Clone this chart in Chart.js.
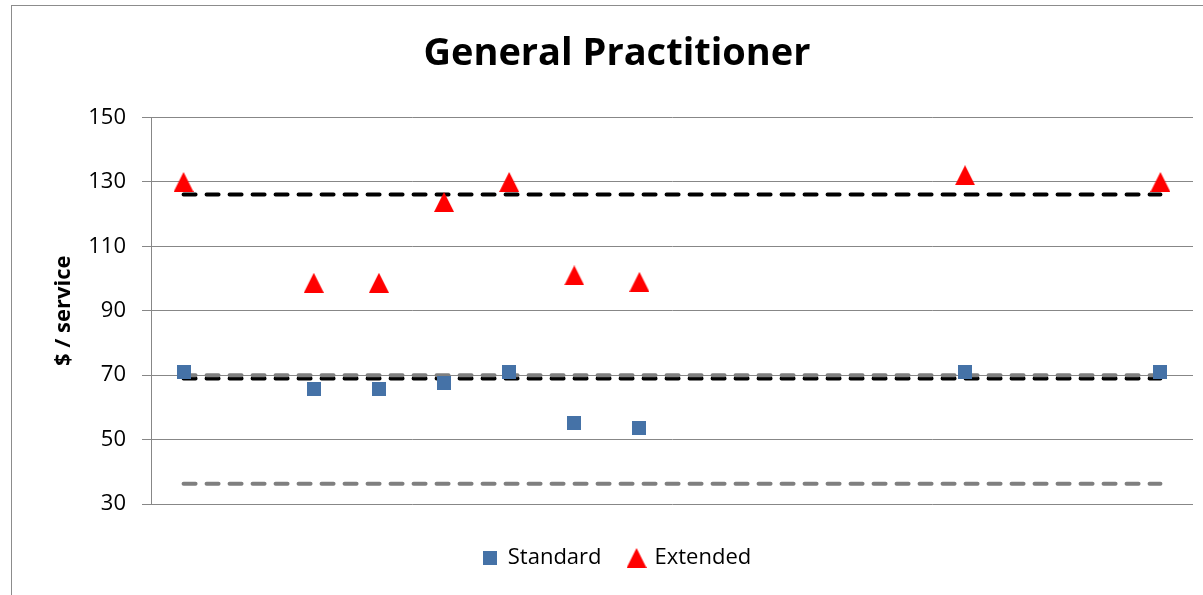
<!DOCTYPE html>
<html>
<head>
<meta charset="utf-8">
<script src="https://cdn.jsdelivr.net/npm/chart.js@4.4.0/dist/chart.umd.min.js"></script>
<style>
  html, body { margin: 0; padding: 0; background: #fff; overflow: hidden; }
  #frame { position: absolute; left: 11px; top: 5px; width: 1400px; height: 800px; border: 1px solid #8c8c8c; }
  #wrap { position: absolute; left: 0; top: 0; width: 1203px; height: 595px; }
</style>
</head>
<body>
<div id="frame"></div>
<div id="wrap"><canvas id="chart"></canvas></div>
<script>
// Data
const categories = ["1", "2", "3", "4", "5", "6", "7", "8", "9", "10", "11", "12", "13", "14", "15", "16"];
const standard = [71, null, 65.8, 65.8, 67.7, 71.1, 55.3, 53.7, null, null, null, null, 71.1, null, null, 71.1];
const extended = [130, null, 98.7, 98.7, 123.8, 130, 101, 99, null, null, null, null, 132.1, null, null, 130];
// dashed reference lines (black = extended / standard, grey = other)
const blackLines = [126.1, 69];
const greyLines = [70, 36.3];
const yTicks = [30, 50, 70, 90, 110, 130, 150];

const font = "'Open Sans', 'Liberation Sans', sans-serif";

// marker images so the marker box is centred on the value, like Excel
const makeSquare = (size, color) => {
    const c = document.createElement("canvas");
    c.width = size;
    c.height = size;
    const ctx = c.getContext("2d");
    ctx.fillStyle = color;
    ctx.fillRect(0, 0, size, size);
    return c;
};
const makeTriangle = (size, color) => {
    const c = document.createElement("canvas");
    c.width = size;
    c.height = size;
    const ctx = c.getContext("2d");
    ctx.fillStyle = color;
    ctx.beginPath();
    ctx.moveTo(size / 2, 0);
    ctx.lineTo(size, size);
    ctx.lineTo(0, size);
    ctx.closePath();
    ctx.fill();
    return c;
};

const squareMark = makeSquare(14, "#4572A7");
const triangleMark = makeTriangle(20, "#FF0000");

// a flat dashed line across the first to last category
const flatLine = (value, color, order) => ({
    label: "line",
    data: [{ x: categories[0], y: value }, { x: categories[categories.length - 1], y: value }],
    borderColor: color,
    borderWidth: 4,
    borderDash: [12, 11],
    borderCapStyle: "round",
    pointRadius: 0,
    fill: false,
    order: order
});

const datasets = [
    {
        label: "Standard",
        data: standard,
        showLine: false,
        pointStyle: squareMark,
        backgroundColor: "#4572A7",
        borderColor: "#4572A7",
        order: 0
    },
    {
        label: "Extended",
        data: extended,
        showLine: false,
        pointStyle: triangleMark,
        backgroundColor: "#FF0000",
        borderColor: "#FF0000",
        order: 0
    }
];
blackLines.forEach(v => datasets.push(flatLine(v, "#000000", 2)));
greyLines.forEach(v => datasets.push(flatLine(v, "#7f7f7f", 1)));

new Chart(document.getElementById("chart"), {
    type: "line",
    data: {
        labels: categories,
        datasets: datasets
    },
    options: {
        responsive: true,
        maintainAspectRatio: false,
        animation: false,
        layout: {
            padding: { left: 41, right: 10, top: 0, bottom: 16 }
        },
        plugins: {
            title: {
                display: true,
                text: "General Practitioner",
                color: "#000",
                font: { family: font, size: 38, weight: "bold" },
                padding: { top: 31, bottom: 41 }
            },
            legend: {
                position: "bottom",
                labels: {
                    usePointStyle: true,
                    boxWidth: 14,
                    boxHeight: 14,
                    padding: 28,
                    color: "#000",
                    font: { family: font, size: 22 },
                    filter: item => item.text !== "line"
                }
            },
            tooltip: { enabled: false }
        },
        scales: {
            x: {
                type: "category",
                offset: true,
                ticks: { display: false },
                grid: { display: false },
                border: { display: false },
                afterFit: scale => { scale.height = 15; }
            },
            y: {
                min: 30,
                max: 150,
                afterBuildTicks: scale => {
                    scale.ticks = yTicks.map(v => ({ value: v }));
                },
                afterFit: scale => { scale.width = 110; },
                ticks: {
                    color: "#000",
                    padding: 16,
                    font: { family: font, size: 22 }
                },
                grid: {
                    color: "#878787",
                    lineWidth: 1,
                    tickLength: 9
                },
                border: { display: true, color: "#878787", width: 1 },
                title: {
                    display: true,
                    text: "$ / service",
                    color: "#000",
                    font: { family: font, size: 22, weight: "bold" },
                    padding: { top: 10, bottom: 0 }
                }
            }
        }
    }
});
</script>
</body>
</html>
